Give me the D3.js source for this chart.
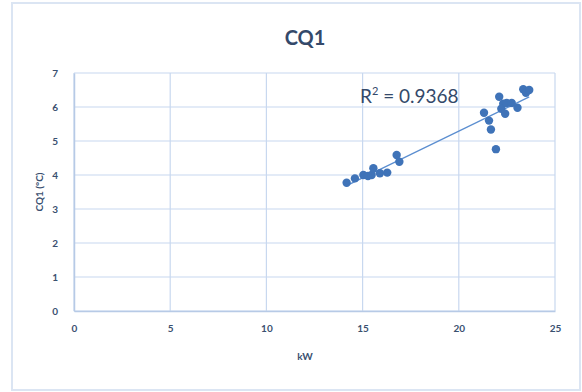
<!DOCTYPE html>
<html>
<head>
<meta charset="utf-8">
<script src="https://cdn.jsdelivr.net/npm/d3@7/dist/d3.min.js"></script>
<style>
  html, body { margin: 0; padding: 0; background: #ffffff; }
  svg { display: block; }
  text { font-family: Lato, "Open Sans", sans-serif; }
</style>
</head>
<body>
<svg id="chart" width="582" height="392"></svg>
<script>
// Power (kW) and CQ1 temperature readings
const kW = [14.17, 14.60, 15.04, 15.28, 15.47, 15.56, 15.90, 16.28, 16.77, 16.91,
            21.31, 21.57, 21.67, 21.93, 22.10, 22.31, 22.21, 22.41, 22.49, 22.75,
            23.05, 23.35, 23.49, 23.66];
const cq1 = [3.77, 3.90, 4.00, 3.97, 4.00, 4.20, 4.05, 4.07, 4.59, 4.39,
             5.83, 5.60, 5.34, 4.76, 6.30, 6.10, 5.95, 5.80, 6.12, 6.12,
             5.98, 6.52, 6.42, 6.50];
const xTicks = [0, 5, 10, 15, 20, 25];
const yTicks = [0, 1, 2, 3, 4, 5, 6, 7];
const rSquaredLabel = "0.9368";

const svg = d3.select("#chart");

// outer chart frame
svg.append("rect")
  .attr("x", 12).attr("y", 3).attr("width", 568).attr("height", 387)
  .attr("fill", "#ffffff").attr("stroke", "#dbe5f3").attr("stroke-width", 2);

const x = d3.scaleLinear().domain([0, 25]).range([74, 555]);
const y = d3.scaleLinear().domain([0, 7]).range([311, 73]);

const gridColor = "#c8d8ef";
const textColor = "#3a5070";

// vertical gridlines
svg.append("g").selectAll("line").data(xTicks).join("line")
  .attr("x1", d => x(d)).attr("x2", d => x(d))
  .attr("y1", y(0)).attr("y2", y(7))
  .attr("stroke", gridColor).attr("stroke-width", 1.2);

// horizontal gridlines
svg.append("g").selectAll("line").data(yTicks).join("line")
  .attr("x1", x(0)).attr("x2", x(25))
  .attr("y1", d => y(d)).attr("y2", d => y(d))
  .attr("stroke", gridColor).attr("stroke-width", 1.2);

// axes with labels only
const xAxis = svg.append("g")
  .attr("transform", `translate(0,${y(0)})`)
  .call(d3.axisBottom(x).tickValues(xTicks).tickFormat(d3.format("d")).tickSize(0).tickPadding(14));
const yAxis = svg.append("g")
  .attr("transform", `translate(${x(0)},0)`)
  .call(d3.axisLeft(y).tickValues(yTicks).tickFormat(d3.format("d")).tickSize(0).tickPadding(16));
[xAxis, yAxis].forEach(g => {
  g.select(".domain").attr("stroke", "#b7cae6").attr("stroke-width", 1.5);
  g.selectAll("text")
    .attr("fill", textColor)
    .style("font-size", "10px")
    .style("font-weight", "bold")
    .style("font-family", "Lato, sans-serif");
});

// title
svg.append("text")
  .attr("x", 305).attr("y", 45)
  .attr("text-anchor", "middle")
  .attr("fill", "#34496a")
  .style("font-size", "20px")
  .style("font-weight", "bold")
  .text("CQ1");

// axis titles
svg.append("text")
  .attr("x", 305).attr("y", 360)
  .attr("text-anchor", "middle")
  .attr("fill", textColor)
  .style("font-size", "10px").style("font-weight", "bold")
  .text("kW");
svg.append("text")
  .attr("transform", "translate(43,192) rotate(-90)")
  .attr("text-anchor", "middle")
  .attr("fill", textColor)
  .style("font-size", "10px").style("font-weight", "bold")
  .text("CQ1 (°C)");

// least-squares trendline over the data range
const n = kW.length;
const mx = d3.mean(kW), my = d3.mean(cq1);
let sxy = 0, sxx = 0;
for (let i = 0; i < n; i++) {
  sxy += (kW[i] - mx) * (cq1[i] - my);
  sxx += (kW[i] - mx) ** 2;
}
const slope = sxy / sxx, intercept = my - slope * mx;
const [x0, x1] = d3.extent(kW);
svg.append("line")
  .attr("x1", x(x0)).attr("y1", y(intercept + slope * x0))
  .attr("x2", x(x1)).attr("y2", y(intercept + slope * x1))
  .attr("stroke", "#5b8ed0").attr("stroke-width", 1.3);

// data points
svg.append("g").selectAll("circle").data(kW).join("circle")
  .attr("cx", (d, i) => x(d))
  .attr("cy", (d, i) => y(cq1[i]))
  .attr("r", 4.2)
  .attr("fill", "#3f73b8");

// R² annotation
const rt = svg.append("text")
  .attr("x", 360).attr("y", 103)
  .attr("fill", "#34496a")
  .style("font-size", "19px");
rt.append("tspan").text("R");
rt.append("tspan").attr("dy", -8).style("font-size", "11px").text("2");
rt.append("tspan").attr("dy", 8).text(" = " + rSquaredLabel);
</script>
</body>
</html>
